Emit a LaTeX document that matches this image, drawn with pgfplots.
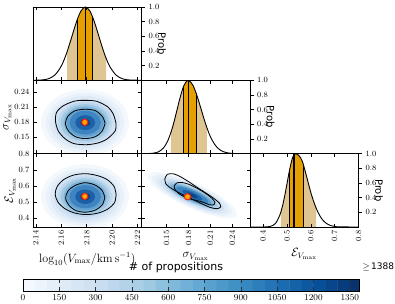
\documentclass[border=0pt]{standalone}
\usepackage{pgfplots}
\pgfplotsset{compat=1.18}
\usepackage{fontspec}
\newfontfamily\dejavu{DejaVu Sans}
\definecolor{lighttan}{RGB}{223,197,145}
\definecolor{darkorg}{RGB}{230,159,0}
\definecolor{b1}{RGB}{243,248,253}
\definecolor{b2}{RGB}{233,241,250}
\definecolor{b3}{RGB}{222,235,247}
\definecolor{b4}{RGB}{208,226,243}
\definecolor{b5}{RGB}{190,215,237}
\definecolor{b6}{RGB}{162,201,228}
\definecolor{b7}{RGB}{128,181,216}
\definecolor{b8}{RGB}{98,160,207}
\definecolor{b9}{RGB}{62,132,192}
\definecolor{b10}{RGB}{28,96,166}
\definecolor{b11}{RGB}{10,64,132}
\definecolor{dotred}{RGB}{240,40,20}
\definecolor{dotfill}{RGB}{255,170,0}
\pgfplotsset{
  colormap={blues}{rgb255=(247,251,255) rgb255=(222,235,247) rgb255=(198,219,239) rgb255=(158,202,225) rgb255=(107,174,214) rgb255=(66,146,198) rgb255=(33,113,181) rgb255=(8,81,156) rgb255=(8,48,107)},
  panel/.style={scale only axis, width=108.5pt, height=73.3pt, anchor=south west,
    axis line style={line width=0.8pt}, tick style={black,line width=0.5pt},
    major tick length=3.5pt, tick align=inside, xtick pos=both, ytick pos=both,
    tick label style={font=\fontsize{8.5}{9}\selectfont},
    label style={font=\fontsize{12}{13}\selectfont}, ylabel shift=-4pt,
    axis on top},
  col1/.style={xmin=2.1377,xmax=2.2232,xtick={2.14,2.16,2.18,2.20,2.22},
    xticklabel style={/pgf/number format/fixed,/pgf/number format/fixed zerofill,/pgf/number format/precision=2}},
  col2/.style={xmin=0.116,xmax=0.264,xtick={0.15,0.18,0.21,0.24},
    xticklabel style={/pgf/number format/fixed,/pgf/number format/fixed zerofill,/pgf/number format/precision=2}},
  col3/.style={xmin=0.345,xmax=0.8,xtick={0.4,0.5,0.6,0.7,0.8},
    xticklabel style={/pgf/number format/fixed,/pgf/number format/fixed zerofill,/pgf/number format/precision=1}},
  row2/.style={ymin=0.116,ymax=0.264,ytick={0.15,0.18,0.21,0.24},
    yticklabel style={/pgf/number format/fixed,/pgf/number format/fixed zerofill,/pgf/number format/precision=2}},
  row3/.style={ymin=0.345,ymax=0.8,ytick={0.4,0.5,0.6,0.7,0.8},
    yticklabel style={/pgf/number format/fixed,/pgf/number format/fixed zerofill,/pgf/number format/precision=1}},
  diag/.style={ymin=0,ymax=1,ytick={0.2,0.4,0.6,0.8,1.0}, ytick pos=right, yticklabel pos=right,
    ytick align=outside,
    yticklabel style={/pgf/number format/fixed,/pgf/number format/fixed zerofill,/pgf/number format/precision=1},
    every axis y label/.style={at={(axis description cs:1.19,0.5)}, rotate=-90, anchor=center, font=\dejavu\fontsize{10}{12}\selectfont},
    ylabel={Prob}},
  rotx/.style={xticklabel style={rotate=90,anchor=east}},
}
\begin{document}
\begin{tikzpicture}[x=1pt,y=1pt]
\path[use as bounding box] (0,0) rectangle (395,303);

% ---------- diag 1 ----------
\begin{axis}[panel, diag, col1, at={(33pt,222.7pt)}, xticklabels={}]
\addplot[fill=lighttan, draw=none] coordinates {(2.1646,0) (2.1646,0.391) (2.168,0.578) (2.172,0.801) (2.1755,0.946) (2.179,1) (2.1825,0.946) (2.186,0.801) (2.190,0.578) (2.194,0.361) (2.1954,0.295) (2.1954,0)};
\addplot[fill=darkorg, draw=none] coordinates {(2.1725,0) (2.1725,0.826) (2.1755,0.946) (2.179,1) (2.1825,0.946) (2.1843,0.880) (2.1843,0)};
\addplot[black, line width=0.7pt] coordinates {(2.1725,0) (2.1725,0.826)};
\addplot[black, line width=0.7pt] coordinates {(2.1843,0) (2.1843,0.880)};
\addplot[black, line width=1.3pt] coordinates {(2.1788,0) (2.1788,1)};
\addplot[black, line width=0.9pt, smooth] coordinates {(2.1377,0.0004) (2.145,0.0053) (2.150,0.022) (2.155,0.073) (2.160,0.195) (2.164,0.361) (2.168,0.578) (2.172,0.801) (2.1755,0.946) (2.179,1) (2.1825,0.946) (2.186,0.801) (2.190,0.578) (2.194,0.361) (2.198,0.195) (2.203,0.073) (2.208,0.022) (2.213,0.0053) (2.2232,0.0001)};
\end{axis}

% ---------- row 2, col 1 ----------
\begin{axis}[panel, col1, row2, at={(33pt,149.4pt)}, xticklabels={}, ylabel={$\sigma_{V_{\max}}$}]
\addplot[fill=b1, draw=none, smooth] coordinates {(2.2137,0.1785) (2.2090,0.2123) (2.1962,0.2370) (2.1788,0.2460) (2.1614,0.2370) (2.1486,0.2123) (2.1439,0.1785) (2.1486,0.1448) (2.1614,0.1200) (2.1788,0.1110) (2.1962,0.1200) (2.2090,0.1448) (2.2137,0.1785)};
\addplot[fill=b2, draw=none, smooth] coordinates {(2.2098,0.1785) (2.2057,0.2085) (2.1943,0.2305) (2.1788,0.2385) (2.1633,0.2305) (2.1520,0.2085) (2.1478,0.1785) (2.1520,0.1485) (2.1633,0.1265) (2.1788,0.1185) (2.1943,0.1265) (2.2057,0.1485) (2.2098,0.1785)};
\addplot[fill=b3, draw=none, smooth] coordinates {(2.2067,0.1785) (2.2030,0.2055) (2.1928,0.2253) (2.1788,0.2325) (2.1649,0.2253) (2.1546,0.2055) (2.1509,0.1785) (2.1546,0.1515) (2.1649,0.1317) (2.1788,0.1245) (2.1928,0.1317) (2.2030,0.1515) (2.2067,0.1785)};
\addplot[fill=b4, draw=none, smooth] coordinates {(2.2036,0.1785) (2.2003,0.2025) (2.1912,0.2201) (2.1788,0.2265) (2.1664,0.2201) (2.1573,0.2025) (2.1540,0.1785) (2.1573,0.1545) (2.1664,0.1369) (2.1788,0.1305) (2.1912,0.1369) (2.2003,0.1545) (2.2036,0.1785)};
\addplot[fill=b5, draw=none, smooth] coordinates {(2.2005,0.1785) (2.1976,0.1995) (2.1897,0.2149) (2.1788,0.2205) (2.1680,0.2149) (2.1600,0.1995) (2.1571,0.1785) (2.1600,0.1575) (2.1680,0.1421) (2.1788,0.1365) (2.1897,0.1421) (2.1976,0.1575) (2.2005,0.1785)};
\addplot[fill=b6, draw=none, smooth] coordinates {(2.1982,0.1785) (2.1956,0.1973) (2.1885,0.2110) (2.1788,0.2160) (2.1691,0.2110) (2.1620,0.1973) (2.1594,0.1785) (2.1620,0.1598) (2.1691,0.1460) (2.1788,0.1410) (2.1885,0.1460) (2.1956,0.1598) (2.1982,0.1785)};
\addplot[fill=b7, draw=none, smooth] coordinates {(2.1959,0.1785) (2.1936,0.1950) (2.1873,0.2071) (2.1788,0.2115) (2.1703,0.2071) (2.1640,0.1950) (2.1618,0.1785) (2.1640,0.1620) (2.1703,0.1499) (2.1788,0.1455) (2.1873,0.1499) (2.1936,0.1620) (2.1959,0.1785)};
\addplot[fill=b8, draw=none, smooth] coordinates {(2.1935,0.1785) (2.1916,0.1928) (2.1862,0.2032) (2.1788,0.2070) (2.1714,0.2032) (2.1661,0.1928) (2.1641,0.1785) (2.1661,0.1643) (2.1714,0.1538) (2.1788,0.1500) (2.1862,0.1538) (2.1916,0.1643) (2.1935,0.1785)};
\addplot[fill=b9, draw=none, smooth] coordinates {(2.1912,0.1785) (2.1895,0.1905) (2.1850,0.1993) (2.1788,0.2025) (2.1726,0.1993) (2.1681,0.1905) (2.1664,0.1785) (2.1681,0.1665) (2.1726,0.1577) (2.1788,0.1545) (2.1850,0.1577) (2.1895,0.1665) (2.1912,0.1785)};
\addplot[fill=b10, draw=none, smooth] coordinates {(2.1866,0.1785) (2.1855,0.1860) (2.1827,0.1915) (2.1788,0.1935) (2.1749,0.1915) (2.1721,0.1860) (2.1711,0.1785) (2.1721,0.1710) (2.1749,0.1655) (2.1788,0.1635) (2.1827,0.1655) (2.1855,0.1710) (2.1866,0.1785)};
\addplot[fill=b11, draw=none, smooth] coordinates {(2.1827,0.1785) (2.1822,0.1823) (2.1807,0.1850) (2.1788,0.1860) (2.1769,0.1850) (2.1754,0.1823) (2.1749,0.1785) (2.1754,0.1748) (2.1769,0.1720) (2.1788,0.1710) (2.1807,0.1720) (2.1822,0.1748) (2.1827,0.1785)};
\addplot[black, line width=0.8pt, smooth] coordinates {(2.2030,0.1785) (2.2010,0.1955) (2.1968,0.2100) (2.1880,0.2215) (2.1790,0.2235) (2.1705,0.2220) (2.1615,0.2125) (2.1562,0.1990) (2.1555,0.1800) (2.1578,0.1610) (2.1630,0.1460) (2.1700,0.1362) (2.1800,0.1340) (2.1890,0.1375) (2.1960,0.1455) (2.2025,0.1620) (2.2030,0.1785)};
\addplot[black, line width=0.8pt, smooth] coordinates {(2.1945,0.1765) (2.1925,0.1905) (2.1868,0.2028) (2.1785,0.2055) (2.1708,0.2025) (2.1652,0.1915) (2.1633,0.1755) (2.1658,0.1612) (2.1715,0.1497) (2.1792,0.1463) (2.1870,0.1503) (2.1920,0.1608) (2.1945,0.1765)};
\addplot[only marks, mark=*, mark size=3.1pt, mark options={draw=dotred, fill=dotfill, line width=1.1pt}] coordinates {(2.1785,0.1792)};
\end{axis}

% ---------- diag 2 ----------
\begin{axis}[panel, diag, col2, at={(141.5pt,149.4pt)}, xticklabels={}]
\addplot[fill=lighttan, draw=none] coordinates {(0.156,0) (0.156,0.283) (0.158,0.348) (0.163,0.537) (0.168,0.739) (0.1735,0.921) (0.1765,0.980) (0.1795,1) (0.183,0.981) (0.186,0.935) (0.192,0.781) (0.198,0.583) (0.204,0.388) (0.2053,0.350) (0.2053,0)};
\addplot[fill=darkorg, draw=none] coordinates {(0.1733,0) (0.1733,0.916) (0.1765,0.980) (0.1795,1) (0.183,0.981) (0.186,0.935) (0.189,0.867) (0.1907,0.820) (0.1907,0)};
\addplot[black, line width=0.7pt] coordinates {(0.1733,0) (0.1733,0.916)};
\addplot[black, line width=0.7pt] coordinates {(0.1907,0) (0.1907,0.820)};
\addplot[black, line width=1.3pt] coordinates {(0.1800,0) (0.1800,1)};
\addplot[black, line width=0.9pt, smooth] coordinates {(0.116,0.0001) (0.125,0.0011) (0.132,0.0058) (0.139,0.0237) (0.146,0.077) (0.152,0.178) (0.158,0.348) (0.163,0.537) (0.168,0.739) (0.1735,0.921) (0.1795,1) (0.186,0.935) (0.192,0.781) (0.198,0.583) (0.204,0.388) (0.210,0.230) (0.217,0.109) (0.224,0.044) (0.232,0.0129) (0.242,0.0021) (0.264,0)};
\end{axis}

% ---------- row 3, col 1 ----------
\begin{axis}[panel, col1, row3, rotx, at={(33pt,76pt)}, xlabel={$\log_{10}(V_{\max}/\mathrm{km\,s^{-1}})$}, ylabel={$\mathcal{E}_{V_{\max}}$}]
\addplot[fill=b1, draw=none, smooth] coordinates {(2.2137,0.533) (2.2090,0.6343) (2.1962,0.7084) (2.1788,0.7355) (2.1614,0.7084) (2.1486,0.6343) (2.1439,0.533) (2.1486,0.4318) (2.1614,0.3576) (2.1788,0.3305) (2.1962,0.3576) (2.2090,0.4318) (2.2137,0.533)};
\addplot[fill=b2, draw=none, smooth] coordinates {(2.2098,0.533) (2.2057,0.623) (2.1943,0.6889) (2.1788,0.713) (2.1633,0.6889) (2.1520,0.623) (2.1478,0.533) (2.1520,0.443) (2.1633,0.3771) (2.1788,0.353) (2.1943,0.3771) (2.2057,0.443) (2.2098,0.533)};
\addplot[fill=b3, draw=none, smooth] coordinates {(2.2067,0.533) (2.2030,0.6140) (2.1928,0.6733) (2.1788,0.6950) (2.1649,0.6733) (2.1546,0.6140) (2.1509,0.533) (2.1546,0.4520) (2.1649,0.3927) (2.1788,0.3710) (2.1928,0.3927) (2.2030,0.4520) (2.2067,0.533)};
\addplot[fill=b4, draw=none, smooth] coordinates {(2.2036,0.533) (2.2003,0.605) (2.1912,0.6577) (2.1788,0.677) (2.1664,0.6577) (2.1573,0.605) (2.1540,0.533) (2.1573,0.461) (2.1664,0.4083) (2.1788,0.389) (2.1912,0.4083) (2.2003,0.461) (2.2036,0.533)};
\addplot[fill=b5, draw=none, smooth] coordinates {(2.2005,0.533) (2.1976,0.5960) (2.1897,0.6421) (2.1788,0.6590) (2.1680,0.6421) (2.1600,0.5960) (2.1571,0.533) (2.1600,0.4700) (2.1680,0.4239) (2.1788,0.4070) (2.1897,0.4239) (2.1976,0.4700) (2.2005,0.533)};
\addplot[fill=b6, draw=none, smooth] coordinates {(2.1982,0.533) (2.1956,0.5893) (2.1885,0.6304) (2.1788,0.6455) (2.1691,0.6304) (2.1620,0.5893) (2.1594,0.533) (2.1620,0.4768) (2.1691,0.4356) (2.1788,0.4205) (2.1885,0.4356) (2.1956,0.4768) (2.1982,0.533)};
\addplot[fill=b7, draw=none, smooth] coordinates {(2.1959,0.533) (2.1936,0.5825) (2.1873,0.6187) (2.1788,0.6320) (2.1703,0.6187) (2.1640,0.5825) (2.1618,0.533) (2.1640,0.4835) (2.1703,0.4473) (2.1788,0.4340) (2.1873,0.4473) (2.1936,0.4835) (2.1959,0.533)};
\addplot[fill=b8, draw=none, smooth] coordinates {(2.1935,0.533) (2.1916,0.5758) (2.1862,0.6070) (2.1788,0.6185) (2.1714,0.6070) (2.1661,0.5758) (2.1641,0.533) (2.1661,0.4903) (2.1714,0.4590) (2.1788,0.4475) (2.1862,0.4590) (2.1916,0.4903) (2.1935,0.533)};
\addplot[fill=b9, draw=none, smooth] coordinates {(2.1912,0.533) (2.1895,0.5690) (2.1850,0.5954) (2.1788,0.6050) (2.1726,0.5954) (2.1681,0.5690) (2.1664,0.533) (2.1681,0.4970) (2.1726,0.4707) (2.1788,0.4610) (2.1850,0.4707) (2.1895,0.4970) (2.1912,0.533)};
\addplot[fill=b10, draw=none, smooth] coordinates {(2.1866,0.533) (2.1855,0.5555) (2.1827,0.5720) (2.1788,0.5780) (2.1749,0.5720) (2.1721,0.5555) (2.1711,0.533) (2.1721,0.5105) (2.1749,0.4940) (2.1788,0.4880) (2.1827,0.4940) (2.1855,0.5105) (2.1866,0.533)};
\addplot[fill=b11, draw=none, smooth] coordinates {(2.1827,0.533) (2.1822,0.5443) (2.1807,0.5525) (2.1788,0.5555) (2.1769,0.5525) (2.1754,0.5443) (2.1749,0.533) (2.1754,0.5218) (2.1769,0.5135) (2.1788,0.5105) (2.1807,0.5135) (2.1822,0.5218) (2.1827,0.533)};
\addplot[black, line width=0.8pt, smooth] coordinates {(2.2032,0.548) (2.2015,0.598) (2.1960,0.640) (2.1885,0.664) (2.1795,0.676) (2.1700,0.668) (2.1620,0.640) (2.1568,0.597) (2.1552,0.550) (2.1573,0.500) (2.1628,0.459) (2.1705,0.432) (2.1797,0.422) (2.1888,0.431) (2.1965,0.456) (2.2020,0.497) (2.2032,0.548)};
\addplot[black, line width=0.8pt, smooth] coordinates {(2.1943,0.530) (2.1920,0.574) (2.1862,0.607) (2.1785,0.620) (2.1708,0.603) (2.1654,0.570) (2.1634,0.525) (2.1660,0.480) (2.1715,0.447) (2.1792,0.437) (2.1868,0.450) (2.1924,0.484) (2.1943,0.530)};
\addplot[only marks, mark=*, mark size=3.1pt, mark options={draw=dotred, fill=dotfill, line width=1.1pt}] coordinates {(2.1785,0.535)};
\end{axis}

% ---------- row 3, col 2 ----------
\begin{axis}[panel, col2, row3, rotx, at={(141.5pt,76pt)}, yticklabels={}, xlabel={$\sigma_{V_{\max}}$}]
\addplot[fill=b1, draw=none, smooth] coordinates {(0.2465,0.4165) (0.2347,0.3977) (0.2097,0.4177) (0.1781,0.4709) (0.1484,0.5433) (0.1286,0.6153) (0.1240,0.6677) (0.1357,0.6865) (0.1607,0.6665) (0.1923,0.6133) (0.2220,0.5409) (0.2418,0.4689) (0.2465,0.4165)};
\addplot[fill=b2, draw=none, smooth] coordinates {(0.2396,0.4305) (0.2292,0.4138) (0.2069,0.4315) (0.1789,0.4788) (0.1525,0.5431) (0.1349,0.6071) (0.1308,0.6537) (0.1412,0.6704) (0.1635,0.6527) (0.1915,0.6054) (0.2179,0.5411) (0.2355,0.4771) (0.2396,0.4305)};
\addplot[fill=b3, draw=none, smooth] coordinates {(0.2342,0.4416) (0.2248,0.4266) (0.2048,0.4426) (0.1795,0.4852) (0.1558,0.5430) (0.1399,0.6006) (0.1362,0.6426) (0.1456,0.6576) (0.1656,0.6416) (0.1909,0.5990) (0.2146,0.5412) (0.2305,0.4836) (0.2342,0.4416)};
\addplot[fill=b4, draw=none, smooth] coordinates {(0.2288,0.4528) (0.2204,0.4394) (0.2026,0.4536) (0.1801,0.4915) (0.1590,0.5429) (0.1450,0.5941) (0.1417,0.6314) (0.1500,0.6448) (0.1678,0.6306) (0.1903,0.5927) (0.2114,0.5413) (0.2254,0.4901) (0.2288,0.4528)};
\addplot[fill=b5, draw=none, smooth] coordinates {(0.2233,0.4640) (0.2160,0.4523) (0.2004,0.4647) (0.1808,0.4978) (0.1623,0.5428) (0.1500,0.5876) (0.1471,0.6203) (0.1544,0.6319) (0.1700,0.6195) (0.1896,0.5864) (0.2081,0.5414) (0.2204,0.4966) (0.2233,0.4640)};
\addplot[fill=b6, draw=none, smooth] coordinates {(0.2192,0.4723) (0.2127,0.4619) (0.1988,0.4730) (0.1812,0.5026) (0.1648,0.5428) (0.1538,0.5828) (0.1512,0.6119) (0.1577,0.6223) (0.1716,0.6112) (0.1892,0.5816) (0.2056,0.5415) (0.2166,0.5015) (0.2192,0.4723)};
\addplot[fill=b7, draw=none, smooth] coordinates {(0.2151,0.4807) (0.2094,0.4715) (0.1972,0.4813) (0.1817,0.5073) (0.1672,0.5427) (0.1575,0.5779) (0.1553,0.6035) (0.1610,0.6127) (0.1732,0.6029) (0.1887,0.5769) (0.2032,0.5415) (0.2129,0.5063) (0.2151,0.4807)};
\addplot[fill=b8, draw=none, smooth] coordinates {(0.2111,0.4891) (0.2061,0.4812) (0.1955,0.4896) (0.1822,0.5121) (0.1697,0.5426) (0.1613,0.5730) (0.1593,0.5951) (0.1643,0.6031) (0.1749,0.5947) (0.1882,0.5722) (0.2007,0.5416) (0.2091,0.5112) (0.2111,0.4891)};
\addplot[fill=b9, draw=none, smooth] coordinates {(0.2070,0.4974) (0.2028,0.4908) (0.1939,0.4979) (0.1827,0.5168) (0.1721,0.5425) (0.1651,0.5681) (0.1634,0.5868) (0.1676,0.5934) (0.1765,0.5863) (0.1877,0.5674) (0.1983,0.5417) (0.2053,0.5161) (0.2070,0.4974)};
\addplot[fill=b10, draw=none, smooth] coordinates {(0.1988,0.5142) (0.1962,0.5100) (0.1906,0.5145) (0.1836,0.5263) (0.1770,0.5424) (0.1726,0.5584) (0.1716,0.5700) (0.1742,0.5742) (0.1798,0.5698) (0.1868,0.5579) (0.1934,0.5418) (0.1978,0.5259) (0.1988,0.5142)};
\addplot[fill=b11, draw=none, smooth] coordinates {(0.1920,0.5281) (0.1907,0.5261) (0.1879,0.5283) (0.1844,0.5342) (0.1811,0.5422) (0.1789,0.5502) (0.1784,0.5561) (0.1797,0.5581) (0.1825,0.5559) (0.1860,0.5500) (0.1893,0.5420) (0.1915,0.5340) (0.1920,0.5281)};
\addplot[black, line width=0.8pt, smooth] coordinates {(0.1478,0.6425) (0.1510,0.6715) (0.1592,0.6756) (0.1683,0.6591) (0.1797,0.6281) (0.1912,0.5929) (0.2026,0.5598) (0.2140,0.5247) (0.2222,0.4937) (0.2240,0.4689) (0.2186,0.4586) (0.2094,0.4668) (0.1980,0.4896) (0.1866,0.5144) (0.1752,0.5392) (0.1637,0.5661) (0.1546,0.5909) (0.1491,0.6136) (0.1478,0.6425)};
\addplot[black, line width=0.8pt, smooth] coordinates {(0.1605,0.5971) (0.1637,0.6177) (0.1706,0.6218) (0.1797,0.6115) (0.1912,0.5867) (0.2026,0.5557) (0.2117,0.5247) (0.2163,0.4978) (0.2149,0.4834) (0.2085,0.4834) (0.1980,0.5020) (0.1866,0.5144) (0.1752,0.5309) (0.1660,0.5557) (0.1615,0.5805) (0.1605,0.5971)};
\addplot[only marks, mark=*, mark size=3.1pt, mark options={draw=dotred, fill=dotfill, line width=1.1pt}] coordinates {(0.1788,0.533)};
\end{axis}

% ---------- diag 3 ----------
\begin{axis}[panel, diag, col3, rotx, at={(250pt,76pt)}, xlabel={$\mathcal{E}_{V_{\max}}$}]
\addplot[fill=lighttan, draw=none] coordinates {(0.474,0) (0.474,0.20) (0.48,0.27) (0.49,0.416) (0.50,0.589) (0.51,0.763) (0.52,0.907) (0.528,0.979) (0.535,1) (0.545,0.99) (0.555,0.955) (0.565,0.89) (0.575,0.78) (0.585,0.655) (0.60,0.471) (0.615,0.320) (0.622,0.26) (0.622,0)};
\addplot[fill=darkorg, draw=none] coordinates {(0.5106,0) (0.5106,0.772) (0.52,0.907) (0.528,0.979) (0.535,1) (0.545,0.99) (0.555,0.955) (0.565,0.89) (0.5696,0.845) (0.5696,0)};
\addplot[black, line width=0.7pt] coordinates {(0.5106,0) (0.5106,0.772)};
\addplot[black, line width=0.7pt] coordinates {(0.5696,0) (0.5696,0.845)};
\addplot[black, line width=1.3pt] coordinates {(0.530,0) (0.530,0.99)};
\addplot[black, line width=0.9pt, smooth] coordinates {(0.345,0) (0.40,0.0004) (0.42,0.0033) (0.44,0.020) (0.455,0.063) (0.47,0.161) (0.48,0.27) (0.49,0.416) (0.50,0.589) (0.51,0.763) (0.52,0.907) (0.528,0.979) (0.535,1) (0.545,0.99) (0.555,0.955) (0.565,0.89) (0.575,0.78) (0.585,0.655) (0.60,0.471) (0.615,0.320) (0.63,0.201) (0.645,0.116) (0.66,0.062) (0.68,0.0237) (0.70,0.0078) (0.72,0.002) (0.8,0)};
\end{axis}

% ---------- colorbar ----------
\begin{axis}[at={(23pt,12pt)}, anchor=south west, scale only axis, width=336pt, height=12pt,
  xmin=0, xmax=1388, ymin=0, ymax=1, ytick=\empty, xtick={0,150,...,1350},
  xtick pos=both, tick align=inside, major tick length=4pt, tick style={black!80,line width=0.5pt},
  tick label style={font=\fontsize{9.5}{10}\selectfont}, xticklabel style={/pgf/number format/1000 sep={}},
  point meta min=0, point meta max=1388, axis on top, axis line style={line width=0.7pt}]
\addplot[matrix plot*, point meta=x, mesh/cols=28] coordinates {
(25,0.25) (75,0.25) (125,0.25) (175,0.25) (225,0.25) (275,0.25) (325,0.25) (375,0.25) (425,0.25) (475,0.25) (525,0.25) (575,0.25) (625,0.25) (675,0.25) (725,0.25) (775,0.25) (825,0.25) (875,0.25) (925,0.25) (975,0.25) (1025,0.25) (1075,0.25) (1125,0.25) (1175,0.25) (1225,0.25) (1275,0.25) (1325,0.25) (1375,0.25)
(25,0.75) (75,0.75) (125,0.75) (175,0.75) (225,0.75) (275,0.75) (325,0.75) (375,0.75) (425,0.75) (475,0.75) (525,0.75) (575,0.75) (625,0.75) (675,0.75) (725,0.75) (775,0.75) (825,0.75) (875,0.75) (925,0.75) (975,0.75) (1025,0.75) (1075,0.75) (1125,0.75) (1175,0.75) (1225,0.75) (1275,0.75) (1325,0.75) (1375,0.75)};
\end{axis}
\node[font=\dejavu\fontsize{11}{13}\selectfont] at (176,36) {\# of propositions};
\node[anchor=west, font=\dejavu\fontsize{9}{11}\selectfont] at (359,36.5) {$\geq$\,1388};
\end{tikzpicture}
\end{document}
